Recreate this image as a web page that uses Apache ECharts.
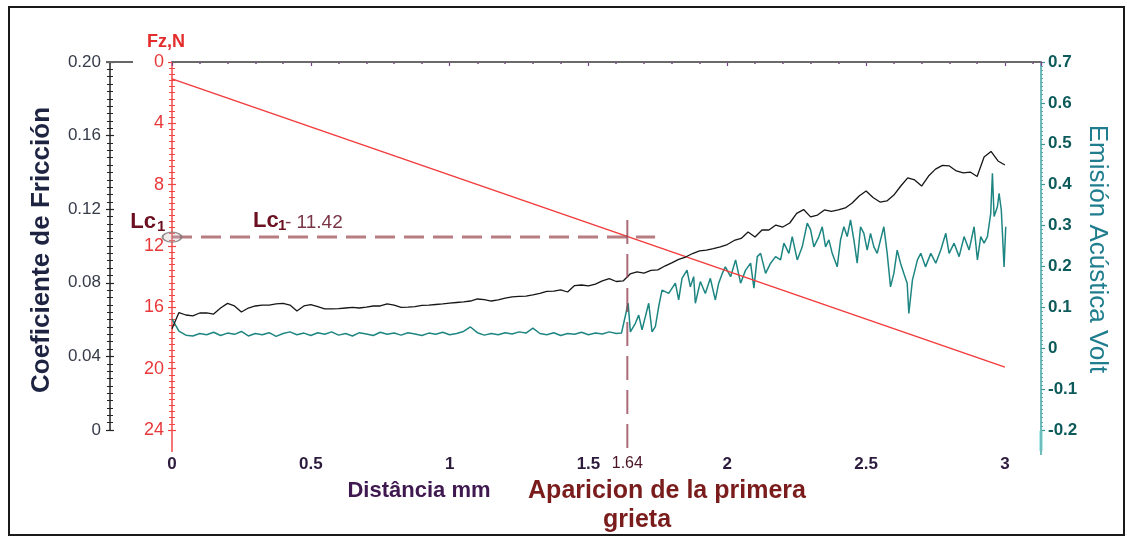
<!DOCTYPE html>
<html>
<head>
<meta charset="utf-8">
<title>Ensayo de rayado</title>
<script src="https://cdn.jsdelivr.net/npm/echarts@6/dist/echarts.min.js"></script>
<style>
  html, body { margin: 0; padding: 0; background: #ffffff; }
  #chart { width: 1127px; height: 538px; }
</style>
</head>
<body>
<div id="chart"></div>
<script>
// Distancia recorrida por el indentador (mm), registro de fricción
const distancia = [
  0,0.025,0.05,0.075,0.1,0.125,0.15,0.175,
  0.2,0.225,0.25,0.275,0.3,0.325,0.35,0.375,
  0.4,0.425,0.45,0.475,0.5,0.525,0.55,0.575,
  0.6,0.625,0.65,0.675,0.7,0.725,0.75,0.775,
  0.8,0.825,0.85,0.875,0.9,0.925,0.95,0.975,
  1,1.025,1.05,1.075,1.1,1.125,1.15,1.175,
  1.2,1.225,1.25,1.275,1.3,1.325,1.35,1.375,
  1.4,1.425,1.45,1.475,1.5,1.525,1.55,1.575,
  1.6,1.625,1.65,1.675,1.7,1.725,1.75,1.775,
  1.8,1.825,1.85,1.875,1.9,1.925,1.95,1.975,
  2,2.025,2.05,2.075,2.1,2.125,2.15,2.175,
  2.2,2.225,2.25,2.275,2.3,2.325,2.35,2.375,
  2.4,2.425,2.45,2.475,2.5,2.525,2.55,2.575,
  2.6,2.625,2.65,2.675,2.7,2.725,2.75,2.775,
  2.8,2.825,2.85,2.875,2.9,2.925,2.95,2.975,
  3
];

// Coeficiente de fricción
const friccion = [
  0.055,0.0638,0.0625,0.0620,0.0636,0.0636,0.0630,0.0663,0.0688,0.0674,
  0.0641,0.0663,0.0674,0.0679,0.0679,0.0685,0.0688,0.0679,0.0647,0.0674,
  0.0682,0.0671,0.0658,0.0658,0.0660,0.0663,0.0666,0.0663,0.0668,0.0674,
  0.0674,0.0685,0.0679,0.0666,0.0668,0.0671,0.0677,0.0679,0.0682,0.0685,
  0.0690,0.0693,0.0696,0.0701,0.0712,0.0709,0.0701,0.0707,0.0717,0.0723,
  0.0726,0.0728,0.0734,0.0742,0.0753,0.0755,0.0761,0.0750,0.0785,0.0788,
  0.0783,0.0793,0.0810,0.0823,0.0807,0.0810,0.0848,0.0859,0.0853,0.0867,
  0.0870,0.0891,0.0908,0.0927,0.0940,0.0959,0.0973,0.0978,0.0986,0.0995,
  0.1008,0.1030,0.1041,0.1076,0.1049,0.1087,0.1087,0.1114,0.1103,0.1125,
  0.1177,0.1198,0.1158,0.1168,0.1196,0.1188,0.1196,0.1207,0.1234,0.1272,
  0.1299,0.1264,0.1239,0.1245,0.1277,0.1326,0.1370,0.1359,0.1326,0.1380,
  0.1418,0.1438,0.1435,0.1408,0.1397,0.1402,0.1378,0.1484,0.1514,0.1462,
  0.1440
];

// Distancia (mm) del registro de emisión acústica
const distanciaAE = [
  0,0.025,0.05,0.075,0.1,0.125,0.15,0.175,
  0.2,0.225,0.25,0.275,0.3,0.325,0.35,0.375,
  0.4,0.425,0.45,0.475,0.5,0.525,0.55,0.575,
  0.6,0.625,0.65,0.675,0.7,0.725,0.75,0.775,
  0.8,0.825,0.85,0.875,0.9,0.925,0.95,0.975,
  1,1.025,1.05,1.075,1.1,1.125,1.15,1.175,
  1.2,1.225,1.25,1.275,1.3,1.325,1.35,1.375,
  1.4,1.425,1.45,1.475,1.5,1.525,1.55,1.575,
  1.6,
  1.619,1.643,1.651,1.669,1.681,1.693,1.717,1.729,1.741,1.753,
  1.765,1.789,1.813,1.825,1.837,1.855,1.867,1.879,1.885,1.903,
  1.921,1.939,1.957,1.969,1.982,1.993,2.012,2.030,2.048,2.066,
  2.084,2.096,2.108,2.120,2.138,2.156,2.174,2.192,2.204,2.222,
  2.234,2.252,2.270,2.288,2.300,2.312,2.330,2.342,2.354,2.366,
  2.378,2.396,2.408,2.420,2.432,2.444,2.456,2.468,2.480,2.492,
  2.504,2.516,2.528,2.540,2.552,2.564,2.576,2.588,2.600,2.612,
  2.624,2.636,2.648,2.654,2.667,2.685,2.697,2.714,2.733,2.751,
  2.769,2.787,2.799,2.817,2.835,2.853,2.871,2.889,2.901,2.913,
  2.925,2.937,2.949,2.955,2.961,2.973,2.979,2.987,2.997,3.003
];

// Emisión acústica (V)
const emision = [
  0.072,0.042,0.032,0.030,0.036,0.033,0.039,0.031,0.037,0.034,
  0.041,0.030,0.036,0.033,0.038,0.029,0.036,0.040,0.033,0.037,
  0.031,0.038,0.034,0.040,0.032,0.036,0.030,0.038,0.035,0.031,
  0.039,0.034,0.037,0.032,0.038,0.035,0.031,0.037,0.034,0.039,
  0.033,0.036,0.041,0.052,0.038,0.032,0.036,0.033,0.038,0.035,
  0.040,0.037,0.049,0.036,0.033,0.038,0.031,0.036,0.034,0.039,
  0.033,0.037,0.035,0.040,0.036,
  0.037,0.110,0.040,0.061,0.081,0.045,0.110,0.040,0.053,0.102,
  0.142,0.134,0.159,0.118,0.171,0.191,0.150,0.175,0.110,0.163,
  0.134,0.171,0.118,0.159,0.183,0.199,0.175,0.216,0.159,0.191,
  0.208,0.147,0.224,0.232,0.183,0.208,0.224,0.216,0.257,0.232,
  0.273,0.216,0.248,0.306,0.290,0.248,0.273,0.297,0.248,0.265,
  0.232,0.199,0.265,0.297,0.273,0.314,0.265,0.208,0.297,0.281,
  0.240,0.281,0.248,0.232,0.265,0.297,0.232,0.150,0.183,0.240,
  0.208,0.183,0.159,0.085,0.167,0.216,0.232,0.199,0.232,0.208,
  0.240,0.281,0.232,0.257,0.224,0.273,0.240,0.297,0.216,0.273,
  0.257,0.273,0.330,0.428,0.322,0.346,0.379,0.338,0.199,0.297
];

// Carga normal aplicada Fz (N), rampa lineal
const cargaDist = [0, 3];
const cargaFz = [1.1, 19.9];

// Carga crítica Lc1
const lc1Dist = 1.64;
const lc1Fz = 11.42;
const lc1LineaFin = 1.74;
const lc1VertTop = 10.3;
const lc1VertBottom = 25.4;

// Marcas de los ejes
const ejeFzTicks = { min: 0, max: 24, interval: 4 };
const ejeCoefTicks = { min: 0, max: 0.2, interval: 0.04 };
const ejeVoltTicks = { min: -0.2, max: 0.7, interval: 0.1 };
const ejeDistTicks = { min: 0, max: 3.13, interval: 0.5 };

const FONT = "'Liberation Sans', Arial, sans-serif";
const zip = (xs, ys) => xs.map((x, i) => [x, ys[i]]);

const chart = echarts.init(document.getElementById('chart'), null, { renderer: 'canvas' });

// Eje con marcas a ambos lados de la línea: uno con rótulos hacia fuera y otro con marcas hacia dentro
function yAxisPair(base, tickColor, majorLen, minorLen, offset, position, extra) {
  const outer = Object.assign({
    type: 'value', position, offset,
    min: base.min, max: base.max, interval: base.interval,
    splitLine: { show: false },
    axisTick: { show: true, inside: false, length: majorLen, lineStyle: { color: tickColor, width: 1.2 } },
    minorTick: { show: true, splitNumber: 10, length: minorLen, lineStyle: { color: tickColor, width: 1 } }
  }, extra);
  const inner = {
    type: 'value', position, offset,
    min: base.min, max: base.max, interval: base.interval,
    inverse: !!extra.inverse,
    splitLine: { show: false },
    axisLine: { show: false },
    axisLabel: { show: false },
    axisTick: { show: true, inside: true, length: majorLen, lineStyle: { color: tickColor, width: 1.2 } },
    minorTick: { show: true, splitNumber: 10, length: minorLen, lineStyle: { color: tickColor, width: 1 } }
  };
  return [outer, inner];
}

const [fzAxis, fzAxisIn] = yAxisPair(ejeFzTicks, '#f04646', 4, 3, 0, 'left', {
  inverse: true,
  axisLine: { show: true, lineStyle: { color: '#f04848', width: 1.5 } },
  axisLabel: { color: '#e8383a', fontSize: 18, fontFamily: FONT, margin: 8 }
});
const [coefAxis, coefAxisIn] = yAxisPair(ejeCoefTicks, '#222222', 4, 3, 62, 'left', {
  axisLine: { show: true, lineStyle: { color: '#222222', width: 1.5 } },
  axisLabel: {
    color: '#363b4a', fontSize: 17, fontFamily: FONT, margin: 9,
    formatter: v => (v === 0 ? '0' : v.toFixed(2))
  }
});

const option = {
  animation: false,
  backgroundColor: '#ffffff',
  grid: { left: 172, right: 86, top: 62, bottom: 108, containLabel: false },
  xAxis: [{
    type: 'value',
    position: 'bottom',
    offset: 15,
    min: ejeDistTicks.min, max: ejeDistTicks.max, interval: ejeDistTicks.interval,
    splitLine: { show: false },
    axisLine: { show: true, lineStyle: { color: '#a764b2', width: 2 } },
    axisTick: { show: true, length: 4, lineStyle: { color: '#7a3f8a', width: 1.2 } },
    minorTick: { show: true, splitNumber: 5, length: 2, lineStyle: { color: '#7a3f8a', width: 1.5 } },
    axisLabel: {
      color: '#2d1b3d', fontSize: 17, fontWeight: 'bold', fontFamily: FONT, margin: 11,
      formatter: v => (Math.abs(v * 2 - Math.round(v * 2)) < 1e-6 ? String(v) : '')
    }
  }],
  yAxis: [
    fzAxis,
    fzAxisIn,
    coefAxis,
    coefAxisIn,
    {
      type: 'value', position: 'right', offset: 0,
      min: ejeVoltTicks.min, max: ejeVoltTicks.max, interval: ejeVoltTicks.interval,
      splitLine: { show: false },
      axisLine: { show: true, lineStyle: { color: '#6fbcbc', width: 2 } },
      axisTick: { show: true, length: 4, lineStyle: { color: '#3f9494', width: 1.2 } },
      minorTick: { show: true, splitNumber: 10, length: 2, lineStyle: { color: '#5aa8a8', width: 1 } },
      axisLabel: {
        color: '#0d5a5a', fontSize: 17, fontWeight: 'bold', fontFamily: FONT, margin: 7,
        formatter: v => (Math.abs(v) < 1e-9 ? '0' : v.toFixed(1))
      }
    }
  ],
  series: [
    {
      name: 'Fz',
      type: 'line',
      yAxisIndex: 0,
      data: zip(cargaDist, cargaFz),
      showSymbol: false,
      lineStyle: { color: '#f23b3b', width: 1.5 },
      z: 4
    },
    {
      name: 'Emisión acústica',
      type: 'line',
      yAxisIndex: 4,
      data: zip(distanciaAE, emision),
      showSymbol: false,
      lineStyle: { color: '#1e8682', width: 1.5 },
      z: 3
    },
    {
      name: 'Coeficiente de fricción',
      type: 'line',
      yAxisIndex: 2,
      data: zip(distancia, friccion),
      showSymbol: false,
      lineStyle: { color: '#161616', width: 1.3 },
      z: 5
    },
    {
      name: 'Lc1 horizontal',
      type: 'line',
      yAxisIndex: 0,
      data: [[0, lc1Fz], [lc1LineaFin, lc1Fz]],
      showSymbol: false,
      lineStyle: { color: 'rgba(160,80,90,0.75)', width: 3, type: [20, 9] },
      z: 6
    },
    {
      name: 'Lc1 vertical',
      type: 'line',
      yAxisIndex: 0,
      clip: false,
      data: [[lc1Dist, lc1VertTop], [lc1Dist, lc1VertBottom]],
      showSymbol: false,
      lineStyle: { color: 'rgba(150,70,85,0.8)', width: 2, type: [24, 10] },
      z: 6
    },
    {
      name: 'Lc1 marca',
      type: 'scatter',
      yAxisIndex: 0,
      clip: false,
      data: [[0, lc1Fz]],
      symbol: 'circle',
      symbolSize: [19, 10],
      itemStyle: { color: 'rgba(200,185,185,0.35)', borderColor: '#7a7070', borderWidth: 1.5 },
      z: 7
    }
  ]
};

chart.setOption(option);

// Rótulos y marco, situados a partir de las escalas de los ejes
const xL = chart.convertToPixel({ xAxisIndex: 0 }, 0);
const xR = chart.convertToPixel({ xAxisIndex: 0 }, ejeDistTicks.max);
const yTop = chart.convertToPixel({ yAxisIndex: 0 }, ejeFzTicks.min);
const yBot = chart.convertToPixel({ yAxisIndex: 0 }, ejeFzTicks.max);
const xLc = chart.convertToPixel({ xAxisIndex: 0 }, lc1Dist);
const yLc = chart.convertToPixel({ yAxisIndex: 0 }, lc1Fz);
const xCoef = xL - 62;

chart.setOption({
  graphic: [
    { type: 'rect', shape: { x: 9, y: 7, width: 1115, height: 528 }, style: { fill: 'none', stroke: '#1a1a1a', lineWidth: 2 }, z: 1 },
    { type: 'line', shape: { x1: xCoef - 4, y1: yTop, x2: xCoef + 23, y2: yTop }, style: { stroke: '#666666', lineWidth: 2 }, z: 1 },
    { type: 'line', shape: { x1: xL, y1: yTop, x2: xR, y2: yTop }, style: { stroke: '#6a6a6a', lineWidth: 2.2 }, z: 1 },
    { type: 'line', shape: { x1: xL, y1: yBot, x2: xL, y2: yBot + 22 }, style: { stroke: '#f04848', lineWidth: 1.5 }, z: 1 },
    { type: 'rect', shape: { x: xR - 2, y: yBot + 1, width: 4, height: 20 }, style: { fill: '#b4ecec' }, z: 1 },
    { type: 'line', shape: { x1: xR, y1: yBot, x2: xR, y2: yBot + 25 }, style: { stroke: '#6fbcbc', lineWidth: 2 }, z: 1 },
    {
      type: 'text', x: xL - 6, y: 42,
      style: { text: 'Fz,N', font: `bold 18px ${FONT}`, fill: '#e32d2d', align: 'center', verticalAlign: 'middle' }
    },
    {
      type: 'text', x: 42, y: 250, rotation: Math.PI / 2,
      style: { text: 'Coeficiente de Fricción', font: `bold 26px ${FONT}`, fill: '#1d2340', align: 'center', verticalAlign: 'middle' }
    },
    {
      type: 'text', x: 1097, y: 249, rotation: -Math.PI / 2,
      style: { text: 'Emisión Acústica Volt', font: `26px ${FONT}`, fill: '#1f7d8e', align: 'center', verticalAlign: 'middle' }
    },
    {
      type: 'text', x: 419, y: 491,
      style: { text: 'Distância mm', font: `bold 22px ${FONT}`, fill: '#3f1850', align: 'center', verticalAlign: 'middle' }
    },
    {
      type: 'text', x: 667, y: 491,
      style: { text: 'Aparicion de la primera', font: `bold 25px ${FONT}`, fill: '#7a1c1c', align: 'center', verticalAlign: 'middle' }
    },
    {
      type: 'text', x: 637, y: 520,
      style: { text: 'grieta', font: `bold 25px ${FONT}`, fill: '#7a1c1c', align: 'center', verticalAlign: 'middle' }
    },
    {
      type: 'text', x: xLc, y: 464,
      style: { text: String(lc1Dist), font: `16px ${FONT}`, fill: '#4b1525', align: 'center', verticalAlign: 'middle' }
    },
    {
      type: 'text', x: xL - 16, y: yLc - 15,
      style: { text: 'Lc', font: `bold 22px ${FONT}`, fill: '#6b1020', align: 'right', verticalAlign: 'middle' }
    },
    {
      type: 'text', x: xL - 15, y: yLc - 10,
      style: { text: '1', font: `bold 15px ${FONT}`, fill: '#6b1020', align: 'left', verticalAlign: 'middle' }
    },
    {
      type: 'text', x: xL + 81, y: yLc - 16,
      style: { text: 'Lc', font: `bold 22px ${FONT}`, fill: '#6b1020', align: 'left', verticalAlign: 'middle' }
    },
    {
      type: 'text', x: xL + 106, y: yLc - 11,
      style: { text: '1', font: `bold 15px ${FONT}`, fill: '#6b1020', align: 'left', verticalAlign: 'middle' }
    },
    {
      type: 'text', x: xL + 113, y: yLc - 14,
      style: { text: '- ' + lc1Fz.toFixed(2), font: `19px ${FONT}`, fill: '#7a3545', align: 'left', verticalAlign: 'middle' }
    }
  ]
});
</script>
</body>
</html>
